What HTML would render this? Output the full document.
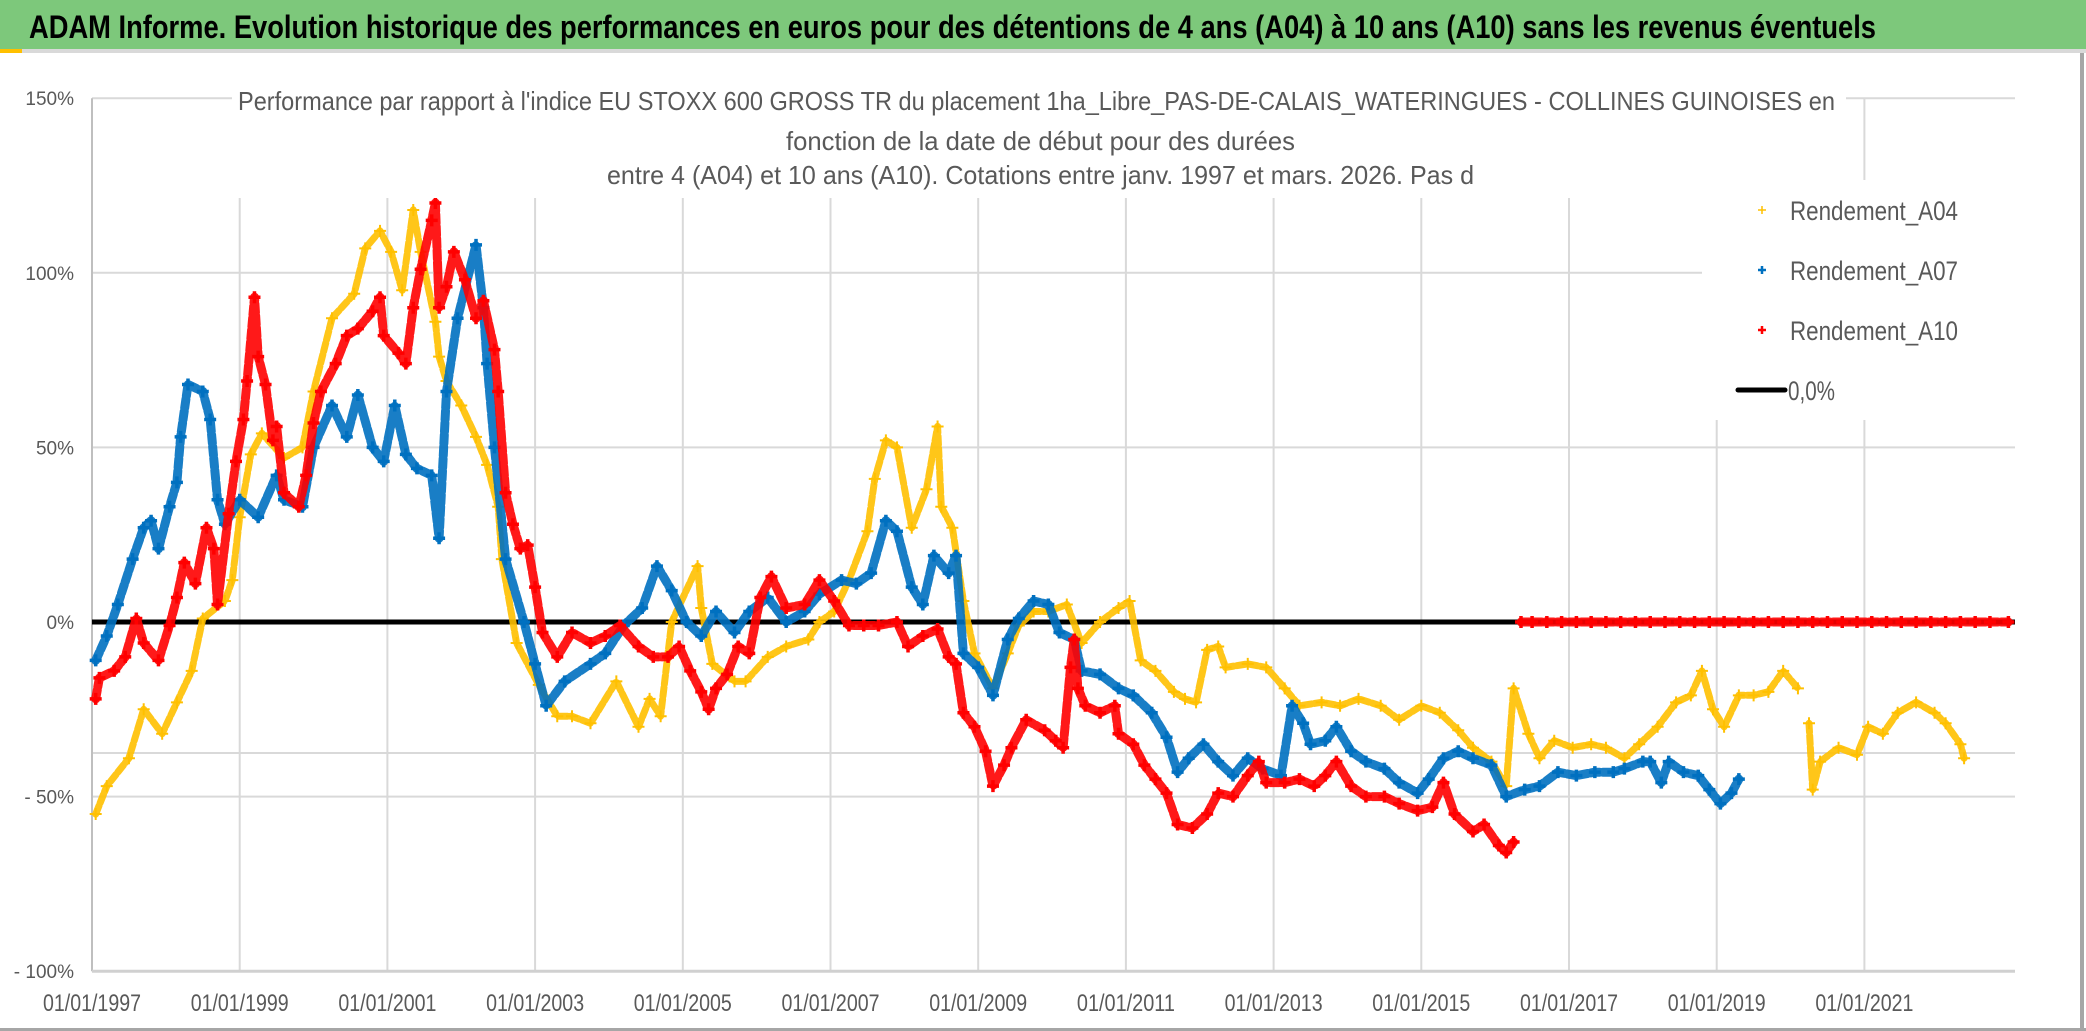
<!DOCTYPE html>
<html><head><meta charset="utf-8"><style>
html,body{margin:0;padding:0;background:#fff;}
svg{display:block;}
text{font-family:"Liberation Sans Narrow","Liberation Sans",sans-serif;}
</style></head><body>
<svg id="chart" width="2086" height="1031" viewBox="0 0 2086 1031" xmlns="http://www.w3.org/2000/svg">
<rect x="0" y="0" width="2086" height="1031" fill="#fff"/>
<rect x="0" y="0" width="2086" height="49" fill="#7dc87b"/>
<rect x="0" y="49" width="2086" height="4" fill="#d9d9d9"/>
<rect x="0" y="49" width="22" height="4" fill="#ffc000"/>
<rect x="2080" y="53" width="4" height="978" fill="#a6a6a6"/>
<rect x="0" y="1028" width="2086" height="3" fill="#a6a6a6"/>
<text x="29" y="38" font-size="32" font-weight="bold" fill="#000" textLength="1847" lengthAdjust="spacingAndGlyphs">ADAM Informe. Evolution historique des performances en euros pour des détentions de 4 ans (A04) à 10 ans (A10) sans les revenus éventuels</text>
<g id="grid"></g>
<g id="axes"></g>
<g id="series"></g>
<rect x="232" y="85" width="1614" height="113" fill="#fff"/>
<text x="238" y="110" font-size="26" fill="#595959" textLength="1597" lengthAdjust="spacingAndGlyphs">Performance par rapport à l'indice EU STOXX 600 GROSS TR  du placement 1ha_Libre_PAS-DE-CALAIS_WATERINGUES - COLLINES GUINOISES en</text>
<text x="786" y="150" font-size="26" fill="#595959" textLength="509" lengthAdjust="spacingAndGlyphs">fonction de la date de début pour des durées</text>
<text x="607" y="184" font-size="26" fill="#595959" textLength="867" lengthAdjust="spacingAndGlyphs">entre 4 (A04) et 10 ans (A10). Cotations entre janv. 1997 et mars. 2026. Pas d</text>
<g id="legend">
<rect x="1702" y="180" width="313" height="240" fill="#fff"/>
</g>
</svg>
<script>
const yTicks = [150, 100, 50, 0, -50, -100];
const yTickLabels = ["150%", "100%", "50%", "0%", "- 50%", "- 100%"];
const extraGrid = [-37.5];
const xTickYears = [1997, 1999, 2001, 2003, 2005, 2007, 2009, 2011, 2013, 2015, 2017, 2019, 2021];
const xTickLabels = ["01/01/1997","01/01/1999","01/01/2001","01/01/2003","01/01/2005","01/01/2007","01/01/2009","01/01/2011","01/01/2013","01/01/2015","01/01/2017","01/01/2019","01/01/2021"];
const seriesNames = ["Rendement_A04", "Rendement_A07", "Rendement_A10"];
const a04 = [[1997.05,-55],[1997.2,-47],[1997.5,-39],[1997.7,-25],[1997.95,-32],[1998.15,-23],[1998.35,-14],[1998.5,1],[1998.8,6],[1998.9,12],[1999.0,30],[1999.15,48],[1999.3,54],[1999.6,47],[1999.85,50],[2000.0,66],[2000.25,87],[2000.55,94],[2000.7,107],[2000.9,112],[2001.05,106],[2001.2,95],[2001.35,118],[2001.45,106],[2001.65,86],[2001.7,76],[2001.8,69],[2002.0,62],[2002.2,53],[2002.35,45],[2002.5,33],[2002.55,18],[2002.75,-6],[2003.05,-18],[2003.3,-27],[2003.5,-27],[2003.75,-29],[2004.1,-17],[2004.4,-30],[2004.55,-22],[2004.7,-27],[2004.85,0],[2005.2,16],[2005.25,4],[2005.4,-12],[2005.7,-17],[2005.85,-17],[2006.15,-10],[2006.4,-7],[2006.7,-5],[2006.85,0],[2007.05,3],[2007.25,12],[2007.5,26],[2007.6,41],[2007.75,52],[2007.9,50],[2008.1,27],[2008.3,38],[2008.45,56],[2008.5,33],[2008.65,27],[2008.8,6],[2008.95,-9],[2009.2,-19],[2009.4,-9],[2009.55,-1],[2009.75,3],[2009.95,3],[2010.2,5],[2010.4,-6],[2010.65,0],[2010.9,4],[2011.05,6],[2011.2,-11],[2011.4,-14],[2011.65,-20],[2011.8,-22],[2011.95,-23],[2012.1,-8],[2012.25,-7],[2012.35,-13],[2012.65,-12],[2012.9,-13],[2013.15,-19],[2013.35,-24],[2013.65,-23],[2013.9,-24],[2014.15,-22],[2014.45,-24],[2014.7,-28],[2015.0,-24],[2015.25,-26],[2015.5,-31],[2015.7,-36],[2015.95,-40],[2016.15,-47],[2016.25,-19],[2016.45,-32],[2016.6,-39],[2016.8,-34],[2017.05,-36],[2017.3,-35],[2017.5,-36],[2017.75,-39],[2017.95,-35],[2018.2,-30],[2018.45,-23],[2018.65,-21],[2018.8,-14],[2018.95,-25],[2019.1,-30],[2019.3,-21],[2019.5,-21],[2019.7,-20],[2019.9,-14],[2020.1,-19],null,[2020.25,-29],[2020.3,-48],[2020.4,-40],[2020.65,-36],[2020.9,-38],[2021.05,-30],[2021.25,-32],[2021.45,-26],[2021.7,-23],[2021.95,-26],[2022.1,-29],[2022.3,-35],[2022.35,-39]];
const a07 = [[1997.05,-11],[1997.2,-4],[1997.35,5],[1997.55,18],[1997.7,27],[1997.8,29],[1997.9,21],[1998.05,33],[1998.15,40],[1998.2,53],[1998.3,68],[1998.5,66],[1998.6,58],[1998.7,35],[1998.8,28],[1999.0,35],[1999.25,30],[1999.5,42],[1999.6,35],[1999.85,33],[2000.0,50],[2000.25,62],[2000.45,53],[2000.6,65],[2000.8,50],[2000.95,46],[2001.1,62],[2001.25,48],[2001.4,44],[2001.6,42],[2001.7,24],[2001.8,66],[2001.95,87],[2002.2,108],[2002.3,90],[2002.35,74],[2002.45,50],[2002.6,18],[2002.85,0],[2003.0,-12],[2003.15,-24],[2003.4,-17],[2003.75,-12],[2003.95,-9],[2004.2,-1],[2004.45,4],[2004.65,16],[2004.85,9],[2005.05,0],[2005.25,-4],[2005.45,3],[2005.7,-3],[2005.9,3],[2006.15,7],[2006.4,0],[2006.65,3],[2006.85,8],[2007.15,12],[2007.35,11],[2007.55,14],[2007.75,29],[2007.9,26],[2008.1,10],[2008.25,5],[2008.4,19],[2008.6,14],[2008.7,19],[2008.8,-9],[2009.0,-13],[2009.2,-21],[2009.4,-5],[2009.55,1],[2009.75,6],[2009.95,5],[2010.1,-3],[2010.3,-5],[2010.4,-14],[2010.65,-15],[2010.9,-19],[2011.1,-21],[2011.35,-26],[2011.55,-33],[2011.7,-43],[2011.85,-39],[2012.05,-35],[2012.25,-40],[2012.45,-44],[2012.65,-39],[2012.85,-42],[2013.1,-44],[2013.25,-24],[2013.4,-29],[2013.5,-35],[2013.7,-34],[2013.85,-30],[2014.05,-37],[2014.25,-40],[2014.5,-42],[2014.7,-46],[2014.95,-49],[2015.1,-45],[2015.3,-39],[2015.5,-37],[2015.7,-39],[2015.95,-41],[2016.15,-50],[2016.4,-48],[2016.6,-47],[2016.85,-43],[2017.1,-44],[2017.35,-43],[2017.6,-43],[2017.75,-42],[2018.0,-40],[2018.1,-40],[2018.25,-46],[2018.35,-40],[2018.55,-43],[2018.75,-44],[2018.9,-48],[2019.05,-52],[2019.2,-49],[2019.3,-45]];
const a10 = [[1997.05,-22],[1997.1,-16],[1997.3,-14],[1997.45,-10],[1997.6,1],[1997.7,-6],[1997.9,-11],[1998.05,-1],[1998.15,7],[1998.25,17],[1998.4,11],[1998.55,27],[1998.65,21],[1998.7,5],[1998.85,31],[1998.95,46],[1999.05,58],[1999.1,69],[1999.2,93],[1999.25,76],[1999.35,68],[1999.45,52],[1999.5,56],[1999.6,37],[1999.8,33],[1999.9,42],[2000.0,57],[2000.1,66],[2000.3,74],[2000.45,82],[2000.6,84],[2000.8,89],[2000.9,93],[2000.95,82],[2001.15,77],[2001.25,74],[2001.35,90],[2001.45,101],[2001.6,115],[2001.65,120],[2001.7,90],[2001.8,96],[2001.9,106],[2002.05,98],[2002.2,87],[2002.3,92],[2002.45,78],[2002.5,66],[2002.6,37],[2002.7,28],[2002.8,21],[2002.9,22],[2003.0,10],[2003.1,-3],[2003.3,-10],[2003.5,-3],[2003.75,-6],[2003.95,-4],[2004.15,-1],[2004.4,-7],[2004.6,-10],[2004.8,-10],[2004.95,-7],[2005.1,-14],[2005.25,-20],[2005.35,-25],[2005.45,-19],[2005.6,-15],[2005.75,-7],[2005.9,-9],[2006.05,7],[2006.2,13],[2006.4,4],[2006.65,5],[2006.85,12],[2007.05,6],[2007.25,-1],[2007.45,-1],[2007.65,-1],[2007.9,0],[2008.05,-7],[2008.25,-4],[2008.45,-2],[2008.6,-10],[2008.7,-12],[2008.8,-26],[2008.95,-30],[2009.1,-37],[2009.2,-47],[2009.35,-41],[2009.45,-36],[2009.65,-28],[2009.9,-31],[2010.05,-34],[2010.15,-36],[2010.25,-13],[2010.3,-5],[2010.35,-19],[2010.45,-24],[2010.65,-26],[2010.85,-24],[2010.9,-32],[2011.1,-35],[2011.25,-41],[2011.4,-45],[2011.55,-49],[2011.7,-58],[2011.9,-59],[2012.1,-55],[2012.25,-49],[2012.45,-50],[2012.65,-44],[2012.8,-40],[2012.9,-46],[2013.15,-46],[2013.35,-45],[2013.55,-47],[2013.7,-44],[2013.85,-40],[2014.05,-47],[2014.25,-50],[2014.5,-50],[2014.7,-52],[2014.95,-54],[2015.15,-53],[2015.3,-46],[2015.45,-55],[2015.7,-60],[2015.85,-58],[2016.05,-64],[2016.15,-66],[2016.25,-63],null,[2016.35,0],[2016.5,0],[2016.7,0],[2016.9,0],[2017.1,0],[2017.3,0],[2017.5,0],[2017.7,0],[2017.9,0],[2018.1,0],[2018.3,0],[2018.5,0],[2018.7,0],[2018.9,0],[2019.1,0],[2019.3,0],[2019.5,0],[2019.7,0],[2019.9,0],[2020.1,0],[2020.3,0],[2020.5,0],[2020.7,0],[2020.9,0],[2021.1,0],[2021.3,0],[2021.5,0],[2021.7,0],[2021.9,0],[2022.1,0],[2022.3,0],[2022.5,0],[2022.7,0],[2022.95,0]];

const NS = "http://www.w3.org/2000/svg";
const X0 = 92, PXYEAR = 73.85, XMAX = 2015;
const Y0 = 622, PXPCT = 3.492;
function xOf(yr){ return X0 + (yr - 1997) * PXYEAR; }
function yOf(v){ return Y0 - v * PXPCT; }
function mk(tag, attrs, parent){
  const e = document.createElementNS(NS, tag);
  for (const k in attrs) e.setAttribute(k, attrs[k]);
  parent.appendChild(e);
  return e;
}
const grid = document.getElementById('grid');
const axes = document.getElementById('axes');
const ser = document.getElementById('series');
const legend = document.getElementById('legend');

yTicks.forEach((v, i) => {
  if (v !== 0 && v !== -100) {
    const l = mk('line', {x1:X0, x2:XMAX, y1:yOf(v), y2:yOf(v), stroke:'#d9d9d9', 'stroke-width':2}, grid);
    
    
  }
  const t = mk('text', {x:74, y:yOf(v)+7, 'font-size':19, fill:'#595959', 'text-anchor':'end'}, axes);
  t.textContent = yTickLabels[i];
  
  
});
extraGrid.forEach(v => {
  const l = mk('line', {x1:X0, x2:XMAX, y1:yOf(v), y2:yOf(v), stroke:'#d9d9d9', 'stroke-width':2}, grid);
  
  
});
xTickYears.forEach((yr, i) => {
  const x = xOf(yr);
  if (i > 0) {
    const l = mk('line', {x1:x, x2:x, y1:yOf(150), y2:yOf(-100), stroke:'#d9d9d9', 'stroke-width':2}, grid);
    
    
  }
  const t = mk('text', {x:x, y:1011, 'font-size':24, fill:'#595959', 'text-anchor':'middle', textLength:98, lengthAdjust:'spacingAndGlyphs'}, axes);
  t.textContent = xTickLabels[i];
  
  
});
const ya = mk('line', {x1:X0, x2:X0, y1:yOf(150), y2:yOf(-100), stroke:'#bfbfbf', 'stroke-width':2}, axes);


const xa = mk('line', {x1:X0, x2:XMAX, y1:yOf(-100), y2:yOf(-100), stroke:'#d0d0d0', 'stroke-width':3}, axes);


const zl = mk('line', {x1:X0, x2:XMAX, y1:yOf(0), y2:yOf(0), stroke:'#000', 'stroke-width':5}, ser);



function plus(g, x, y, s, w, c){
  mk('path', {d:`M${x-s} ${y}H${x+s}M${x} ${y-s}V${y+s}`, stroke:c, 'stroke-width':w, fill:'none'}, g);
}
function drawSeries(data, color, thick, name){
  const g = mk('g', {}, ser);
  
  
  let segs = [[]];
  data.forEach(p => { if (p === null) segs.push([]); else segs[segs.length-1].push(p); });
  segs.forEach(seg => {
    if (seg.length < 2) return;
    const pts = seg.map(p => xOf(p[0]).toFixed(1) + ',' + yOf(p[1]).toFixed(1)).join(' ');
    mk('polyline', {points:pts, fill:'none', stroke:color, 'stroke-width':thick ? 9 : 7, 'stroke-linejoin':'round', 'stroke-linecap':'round', 'stroke-dasharray':'9 3', opacity:0.9}, g);
  });
  data.forEach(p => { if (p) plus(g, xOf(p[0]), yOf(p[1]), 6, thick ? 3.5 : 2, color); });
}
drawSeries(a04, '#ffc000', false, 'series-a04');
drawSeries(a07, '#0070c0', true, 'series-a07');
drawSeries(a10, '#ff0000', true, 'series-a10');

const legColors = ['#ffc000', '#0070c0', '#ff0000'];
const legY = [210, 270, 330];
seriesNames.forEach((n, i) => {
  const g = mk('g', {}, legend);
  
  
  plus(g, 1762, legY[i], 4, i === 0 ? 1.5 : 2.5, legColors[i]);
  const t = mk('text', {x:1790, y:legY[i]+10, 'font-size':27, fill:'#595959', textLength:168, lengthAdjust:'spacingAndGlyphs'}, g);
  t.textContent = n;
});
const lg = mk('g', {}, legend);


mk('line', {x1:1738, x2:1785, y1:390, y2:390, stroke:'#000', 'stroke-width':5, 'stroke-linecap':'round'}, lg);
const lt = mk('text', {x:1788, y:400, 'font-size':27, fill:'#595959', textLength:47, lengthAdjust:'spacingAndGlyphs'}, lg);
lt.textContent = '0,0%';
</script>
</body></html>
